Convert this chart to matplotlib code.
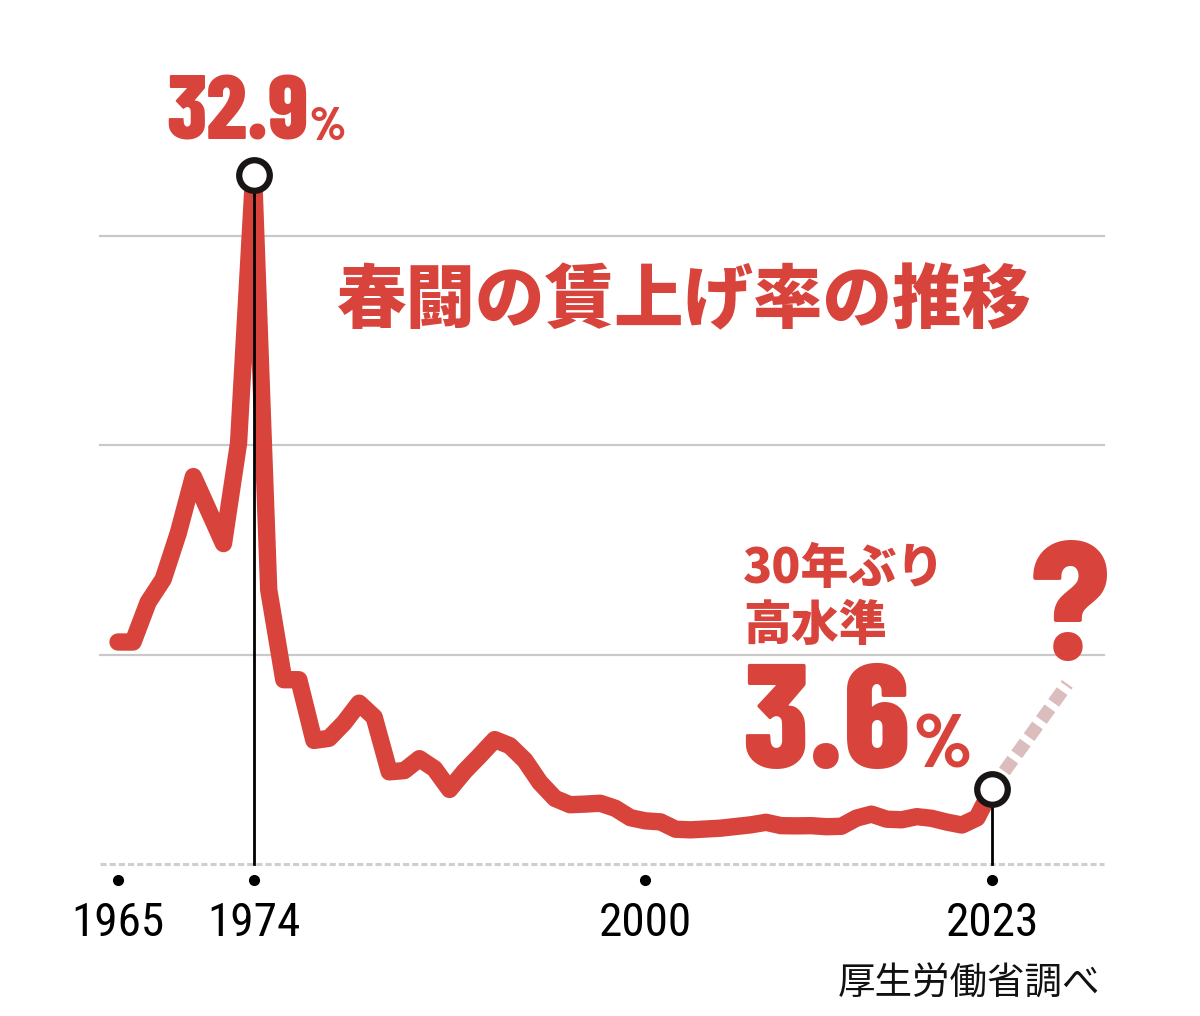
import matplotlib
matplotlib.use("Agg")
import matplotlib.pyplot as plt

# 春闘の賃上げ率 (厚生労働省調べ), %
years = list(range(1965, 2024))
rates = [10.6, 10.6, 12.5, 13.6, 15.8, 18.5, 16.9, 15.3, 20.1, 32.9,
         13.1, 8.8, 8.8, 5.9, 6.0, 6.74, 7.68, 7.01, 4.40, 4.46,
         5.03, 4.55, 3.56, 4.43, 5.17, 5.94, 5.65, 4.95, 3.89, 3.13,
         2.83, 2.86, 2.90, 2.66, 2.21, 2.06, 2.01, 1.66, 1.63, 1.67,
         1.71, 1.79, 1.87, 1.99, 1.83, 1.82, 1.83, 1.78, 1.80, 2.19,
         2.38, 2.14, 2.11, 2.26, 2.18, 2.00, 1.86, 2.20, 3.60]
proj_years = [2023, 2028]
proj_vals = [3.6, 8.6]
tick_years = [1965, 1974, 2000, 2023]
grid_vals = [10, 20, 30]
highlight_years = [1974, 2023]

RED = "#d8433b"
W, H = 1200, 1016

fig = plt.figure(figsize=(W / 100, H / 100), dpi=100)
ax = fig.add_axes([0, 0, 1, 1])
ax.set_xlim(1957.17, 2036.80)
ax.set_ylim(-7.26, 41.26)
ax.axis("off")

# grid
x0, x1 = 1963.8, 2030.4
for g in grid_vals:
    ax.plot([x0, x1], [g, g], color="#c9c9c9", lw=1.6, zorder=1)
ax.plot([x0, x1], [0, 0], color="#cfcfcf", lw=2.2, ls=(0, (2, 1)), zorder=1)

# projection
ax.plot(proj_years, proj_vals, color="#dcbdbd", lw=9.5, ls=(0, (1.1, 0.5)),
        solid_capstyle="butt", dash_capstyle="butt", zorder=2)

# main line
ax.plot(years, rates, color=RED, lw=12.5, solid_joinstyle="round",
        solid_capstyle="round", zorder=3)

# highlight stems and circles
for yr in highlight_years:
    v = rates[years.index(yr)]
    ax.plot([yr, yr], [0, v], color="black", lw=2, zorder=4)
    ax.plot(yr, v, "o", ms=22, mfc="white", mec="#1a1515", mew=4.5, zorder=5)

cond = ["Roboto Condensed", "Barlow Condensed", "DejaVu Sans"]
heavy = ["Barlow Condensed", "Anton", "DejaVu Sans"]
cjk = ["Noto Sans CJK JP", "DejaVu Sans"]

def fx(px):
    return px / W

def fy(py):
    return 1 - py / H

# year dots and labels
for yr in tick_years:
    ax.plot(yr, -0.76, "o", color="black", ms=7, zorder=4)
    ax.text(yr, -3.44, str(yr), ha="center", va="baseline", fontsize=34,
            family=cond, fontweight="normal", color="black")

fig.text(fx(166), fy(140), "32.9", fontsize=65, family=heavy, fontweight=800,
         color=RED, ha="left", va="baseline")
fig.text(fx(309), fy(140), "%", fontsize=34, family=heavy, fontweight=800,
         color=RED, ha="left", va="baseline")

fig.text(fx(684), fy(302), "春闘の賃上げ率の推移", fontsize=50, fontweight="heavy",
         family=cjk, color=RED, ha="center", va="center")

fig.text(fx(743), fy(569), "30年ぶり", fontsize=34.5, fontweight="heavy",
         family=cjk, color=RED, ha="left", va="center")
fig.text(fx(743), fy(626), "高水準", fontsize=34.5, fontweight="heavy",
         family=cjk, color=RED, ha="left", va="center")

fig.text(fx(742), fy(768), "3.6", fontsize=107, family=heavy, fontweight=800,
         color=RED, ha="left", va="baseline")
fig.text(fx(913), fy(768), "%", fontsize=55, family=heavy, fontweight=800,
         color=RED, ha="left", va="baseline")

fig.text(fx(1070), fy(660), "?", fontsize=122, fontweight=800,
         family=heavy, color=RED, ha="center", va="baseline")

fig.text(fx(1100), fy(984), "厚生労働省調べ", fontsize=27, family=cjk,
         color="#111111", ha="right", va="center")

fig.savefig("out.png", dpi=100, facecolor="white")
